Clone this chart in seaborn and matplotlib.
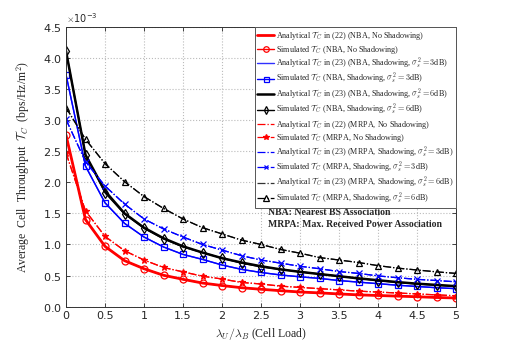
import matplotlib
matplotlib.use("Agg")
import matplotlib.pyplot as plt
import matplotlib.ticker as mticker
import seaborn as sns
import numpy as np

# cell load lambda_U / lambda_B
load = [0, 0.25, 0.5, 0.75, 1, 1.25, 1.5, 1.75, 2, 2.25, 2.5,
        2.75, 3, 3.25, 3.5, 3.75, 4, 4.25, 4.5, 4.75, 5]

# throughput values in units of 1e-3 bps/Hz/m^2
nba_ana = [2.76, 1.40, 0.97, 0.74, 0.61, 0.505, 0.44, 0.38, 0.34, 0.305, 0.28,
           0.257, 0.236, 0.222, 0.205, 0.19, 0.18, 0.17, 0.16, 0.148, 0.14]
nba_sim = [2.76, 1.40, 0.97, 0.74, 0.61, 0.505, 0.44, 0.38, 0.34, 0.305, 0.28,
           0.257, 0.236, 0.222, 0.205, 0.19, 0.18, 0.17, 0.16, 0.148, 0.14]
nba3_ana = [3.73, 2.26, 1.67, 1.34, 1.12, 0.96, 0.84, 0.76, 0.67, 0.60, 0.55,
            0.51, 0.48, 0.455, 0.42, 0.395, 0.37, 0.345, 0.325, 0.305, 0.29]
nba3_sim = [3.73, 2.26, 1.67, 1.34, 1.12, 0.96, 0.84, 0.76, 0.67, 0.60, 0.55,
            0.51, 0.48, 0.455, 0.42, 0.395, 0.37, 0.345, 0.325, 0.305, 0.29]
nba6_ana = [4.11, 2.44, 1.86, 1.50, 1.27, 1.10, 0.97, 0.87, 0.78, 0.71, 0.65,
            0.60, 0.56, 0.525, 0.49, 0.455, 0.425, 0.395, 0.37, 0.35, 0.33]
nba6_sim = [4.11, 2.44, 1.83, 1.49, 1.26, 1.09, 0.96, 0.87, 0.78, 0.70, 0.64,
            0.60, 0.56, 0.525, 0.49, 0.455, 0.42, 0.39, 0.365, 0.345, 0.325]
mrpa_ana = [2.47, 1.54, 1.13, 0.90, 0.75, 0.63, 0.56, 0.49, 0.445, 0.39, 0.365,
            0.33, 0.31, 0.29, 0.27, 0.25, 0.235, 0.22, 0.205, 0.19, 0.175]
mrpa_sim = [2.47, 1.54, 1.13, 0.90, 0.75, 0.63, 0.56, 0.49, 0.445, 0.39, 0.365,
            0.33, 0.31, 0.29, 0.27, 0.25, 0.235, 0.22, 0.205, 0.19, 0.175]
mrpa3_ana = [3.01, 2.33, 1.94, 1.65, 1.41, 1.25, 1.12, 1.00, 0.91, 0.82, 0.75,
             0.70, 0.65, 0.61, 0.565, 0.535, 0.495, 0.465, 0.44, 0.42, 0.40]
mrpa3_sim = [3.01, 2.33, 1.94, 1.65, 1.41, 1.25, 1.12, 1.00, 0.91, 0.82, 0.75,
             0.70, 0.65, 0.61, 0.565, 0.535, 0.495, 0.465, 0.44, 0.42, 0.40]
mrpa6_ana = [3.20, 2.69, 2.30, 2.01, 1.77, 1.58, 1.41, 1.27, 1.17, 1.07, 1.00,
             0.92, 0.86, 0.79, 0.75, 0.71, 0.66, 0.62, 0.59, 0.56, 0.535]
mrpa6_sim = [3.20, 2.69, 2.30, 2.01, 1.77, 1.58, 1.41, 1.27, 1.17, 1.07, 1.00,
             0.92, 0.86, 0.79, 0.75, 0.71, 0.66, 0.62, 0.59, 0.56, 0.535]

TC = r"$\mathcal{T}_C$"
labels = [
    "Analytical " + TC + " in (22) (NBA, No Shadowing)",
    "Simulated " + TC + " (NBA, No Shadowing)",
    "Analytical " + TC + r" in (23) (NBA, Shadowing, $\sigma_s^2=3$dB)",
    "Simulated " + TC + r" (NBA, Shadowing, $\sigma_s^2=3$dB)",
    "Analytical " + TC + r" in (23) (NBA, Shadowing, $\sigma_s^2=6$dB)",
    "Simulated " + TC + r" (NBA, Shadowing, $\sigma_s^2=6$dB)",
    "Analytical " + TC + " in (22) (MRPA, No Shadowing)",
    "Simulated " + TC + " (MRPA, No Shadowing)",
    "Analytical " + TC + r" in (23) (MRPA, Shadowing, $\sigma_s^2=3$dB)",
    "Simulated " + TC + r" (MRPA, Shadowing, $\sigma_s^2=3$dB)",
    "Analytical " + TC + r" in (23) (MRPA, Shadowing, $\sigma_s^2=6$dB)",
    "Simulated " + TC + r" (MRPA, Shadowing, $\sigma_s^2=6$dB)",
]
series = [nba_ana, nba_sim, nba3_ana, nba3_sim, nba6_ana, nba6_sim,
          mrpa_ana, mrpa_sim, mrpa3_ana, mrpa3_sim, mrpa6_ana, mrpa6_sim]

styles = [
    dict(color="red", ls="-", lw=2.0, marker=None),
    dict(color="red", ls="-", lw=1.0, marker="o", ms=5, mfc="none"),
    dict(color="#3030ff", ls="-", lw=1.0, marker=None),
    dict(color="blue", ls="-", lw=1.0, marker="s", ms=4.5, mfc="none"),
    dict(color="black", ls="-", lw=1.8, marker=None),
    dict(color="black", ls="-", lw=1.0, marker="d", ms=5, mfc="none"),
    dict(color="red", ls="-.", lw=0.9, marker=None),
    dict(color="red", ls="-.", lw=0.9, marker="*", ms=5),
    dict(color="blue", ls="-.", lw=0.9, marker=None),
    dict(color="blue", ls="-.", lw=0.9, marker="x", ms=4),
    dict(color="#333333", ls="-.", lw=0.9, marker=None),
    dict(color="black", ls="-.", lw=0.9, marker="^", ms=5, mfc="none"),
]

sns.set_theme(style="ticks")
plt.rcParams["font.family"] = ["Liberation Serif", "DejaVu Serif"]
plt.rcParams["mathtext.fontset"] = "cm"

fig = plt.figure(figsize=(5.05, 3.46), dpi=100)
ax = fig.add_axes([0.1307, 0.1136, 0.7723, 0.8092])

x = np.array(load)
for vals, lab, st in zip(series, labels, styles):
    y = np.array(vals) * 1e-3
    sns.lineplot(x=x, y=y, ax=ax, label=lab, color=st["color"],
                 linestyle=st["ls"], linewidth=st["lw"], marker=st["marker"],
                 markersize=st.get("ms", 0), markerfacecolor=st.get("mfc", st["color"]),
                 markeredgecolor=st["color"], markeredgewidth=0.9)

ax.set_xlim(0, 5)
ax.set_ylim(0, 4.5e-3)
ax.xaxis.set_major_locator(mticker.MultipleLocator(0.5))
ax.yaxis.set_major_locator(mticker.MultipleLocator(0.5e-3))
fmt = mticker.ScalarFormatter(useMathText=True)
fmt.set_powerlimits((-3, -3))
ax.yaxis.set_major_formatter(fmt)
ax.xaxis.set_major_formatter(mticker.FuncFormatter(lambda v, p: f"{v:g}"))
ax.grid(True, linestyle=":", color="#bbbbbb", linewidth=0.8)
ax.tick_params(direction="in", top=True, right=True, length=3, width=0.6,
               labelsize=8, pad=3)
for lbl in ax.get_xticklabels() + ax.get_yticklabels():
    lbl.set_family("DejaVu Sans")
ax.yaxis.get_offset_text().set_fontsize(7)
ax.yaxis.get_offset_text().set_family("DejaVu Sans")
for sp in ax.spines.values():
    sp.set_color("#333333")
    sp.set_linewidth(0.7)

ax.set_xlabel(r"$\lambda_U/\lambda_B$ (Cell Load)", fontsize=8.5)
ax.set_ylabel(r"Average  Cell  Throughput  $\mathcal{T}_C$  (bps/Hz/m$^2$)", fontsize=8.5, labelpad=8)

leg = ax.legend(loc="upper right", bbox_to_anchor=(1.0, 1.0), borderaxespad=0,
                fontsize=5.9, labelspacing=0.05, handlelength=2.1, handletextpad=0.2,
                handleheight=0.6, borderpad=0.3, fancybox=False, framealpha=1,
                markerscale=0.8)
leg.get_frame().set_edgecolor("#555555")
leg.get_frame().set_linewidth(0.7)

ax.text(0.518, 0.338, "NBA: Nearest BS Association", transform=ax.transAxes,
        fontsize=7, fontweight="bold", va="center", ha="left")
ax.text(0.518, 0.293, "MRPA: Max. Received Power Association", transform=ax.transAxes,
        fontsize=7, fontweight="bold", va="center", ha="left")

fig.savefig("out.png", dpi=100)
